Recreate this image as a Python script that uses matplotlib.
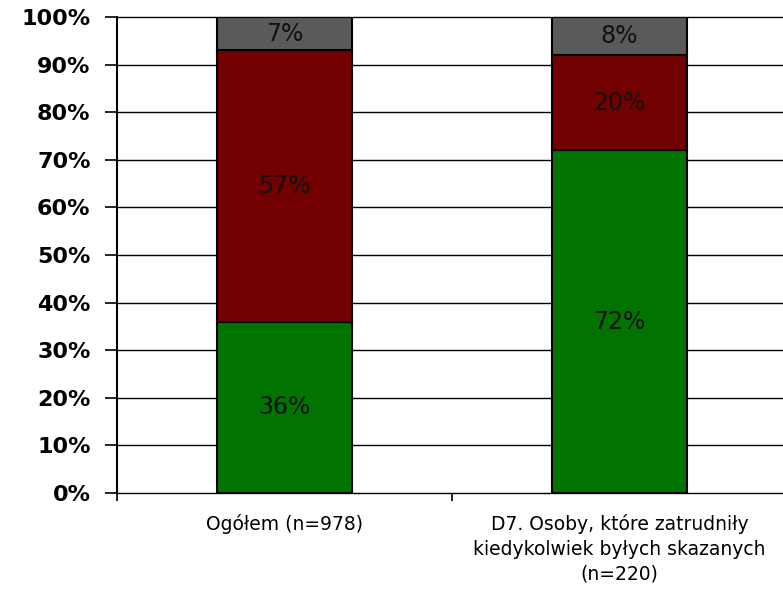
import numpy as np
import matplotlib.pyplot as plt

categories = ["Ogółem (n=978)",
              "D7. Osoby, które zatrudniły\nkiedykolwiek byłych skazanych\n(n=220)"]
green_vals = [36, 72]
red_vals = [57, 20]
gray_vals = [7, 8]

colors = ["#007300", "#730000", "#5a5a5a"]

fig = plt.figure(figsize=(7.83, 5.92), dpi=100)
ax = fig.add_axes([117 / 783, 99 / 592, 670 / 783, 476 / 592])

x = np.arange(len(categories))
bottom = np.zeros(len(categories))
for vals, c in zip([green_vals, red_vals, gray_vals], colors):
    vals = np.array(vals, dtype=float)
    ax.bar(x, vals, bottom=bottom, width=0.403, color=c,
           edgecolor="black", linewidth=1.5, zorder=3)
    for xi, b, v in zip(x, bottom, vals):
        ax.text(xi, b + v / 2, f"{int(v)}%", ha="center", va="center",
                fontsize=17, color="#111111", zorder=4)
    bottom += vals

ax.set_xlim(-0.5, 1.5)
ax.set_ylim(0, 100)
ax.set_yticks(np.arange(0, 101, 10))
ax.set_yticklabels([f"{v}%" for v in range(0, 101, 10)],
                   fontsize=16, fontweight="heavy")
ax.yaxis.grid(True, color="black", linewidth=1.0, zorder=0)
for gl in ax.get_ygridlines():
    gl.set_clip_on(False)
ax.tick_params(axis="y", direction="out", length=9, width=1.2, pad=10)

ax.set_xticks(x)
ax.set_xticklabels(categories, fontsize=13.5, linespacing=1.38)
ax.tick_params(axis="x", length=0, pad=15)
ax.set_xticks([-0.5, 0.5, 1.5], minor=True)
ax.tick_params(axis="x", which="minor", direction="out", length=6, width=1.2)

for side in ["top", "right", "bottom"]:
    ax.spines[side].set_visible(False)
ax.spines["left"].set_linewidth(1.5)

fig.savefig("out.png", dpi=100)
